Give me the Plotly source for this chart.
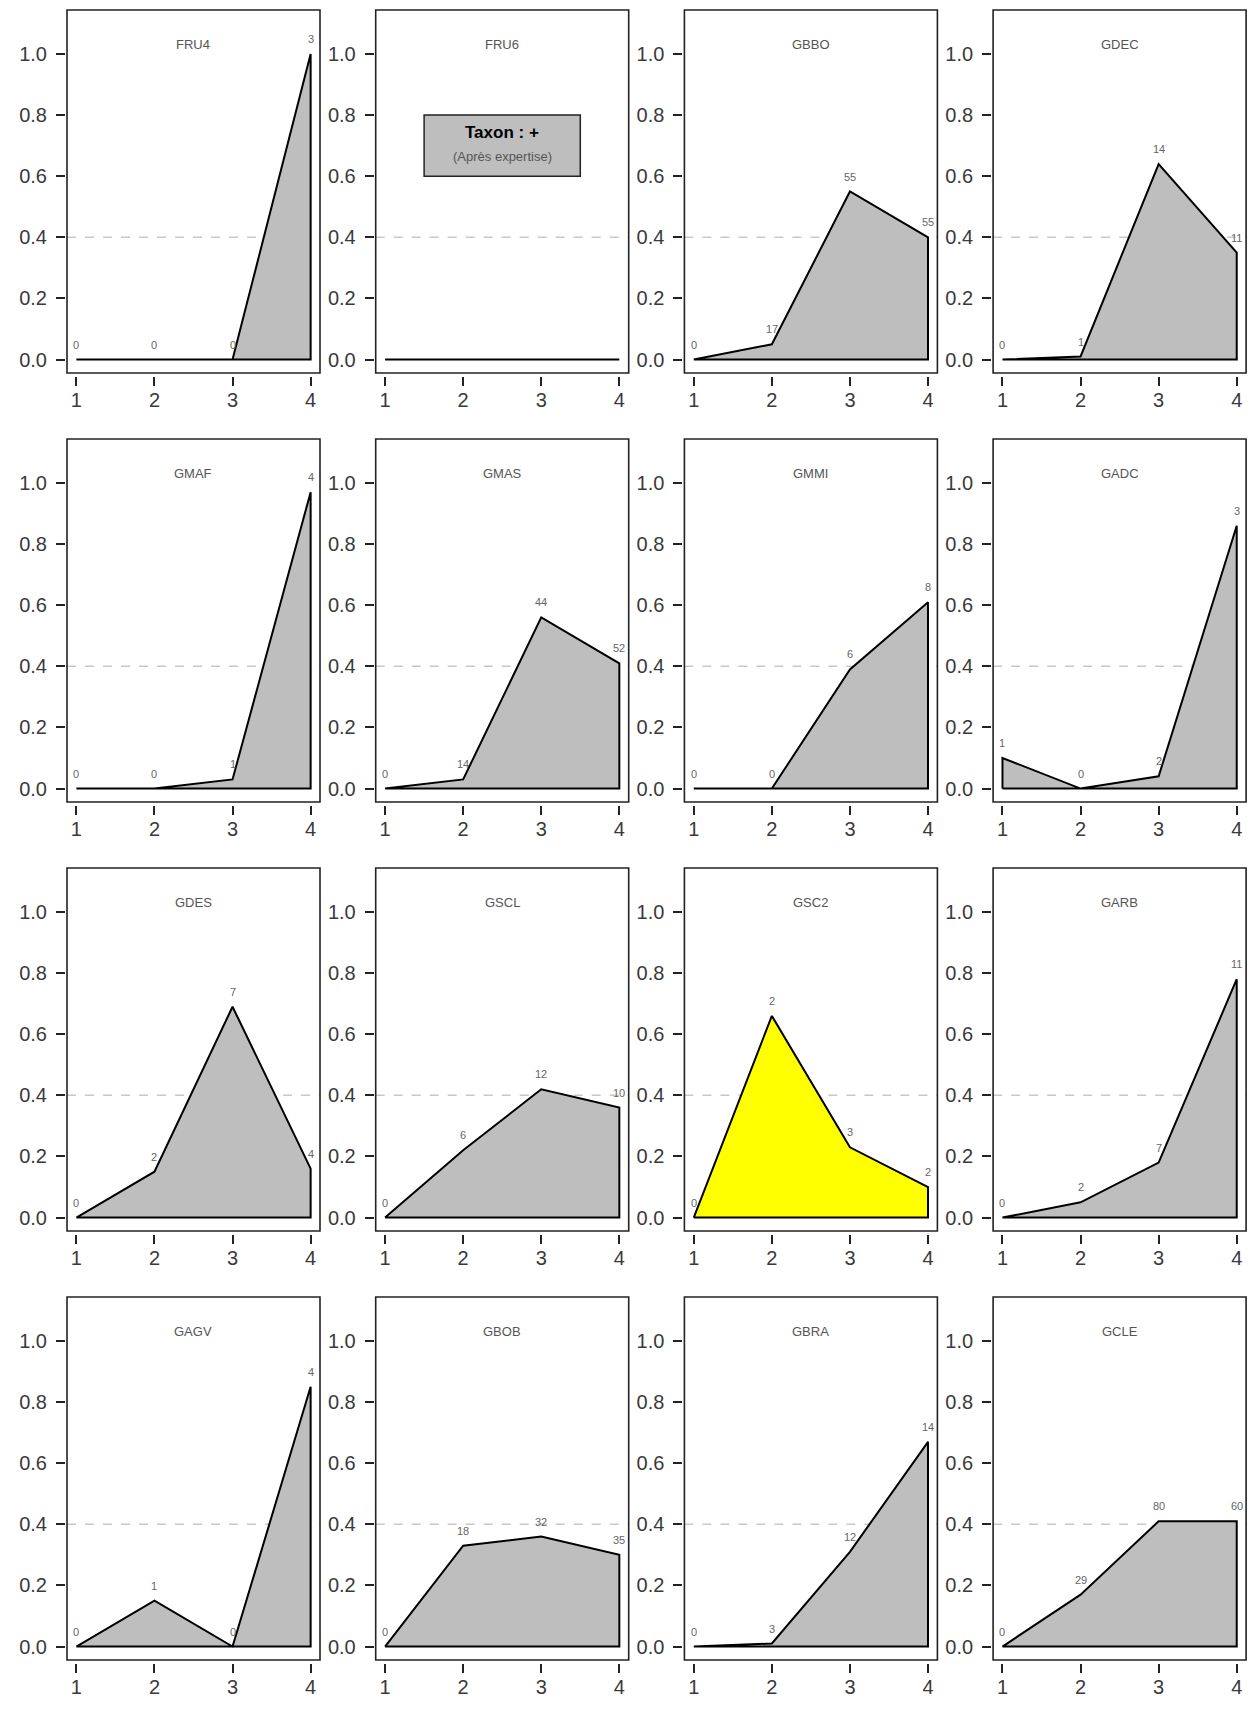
import plotly.graph_objects as go

# ── data ─────────────────────────────────────────────────────────────────────
TAXA = ["FRU4", "FRU6", "GBBO", "GDEC",
        "GMAF", "GMAS", "GMMI", "GADC",
        "GDES", "GSCL", "GSC2", "GARB",
        "GAGV", "GBOB", "GBRA", "GCLE"]
CLASSES = [1, 2, 3, 4]
FREQ = [
    [0.00, 0.00, 0.00, 1.00], [0.00, 0.00, 0.00, 0.00], [0.00, 0.05, 0.55, 0.40], [0.00, 0.01, 0.64, 0.35],
    [0.00, 0.00, 0.03, 0.97], [0.00, 0.03, 0.56, 0.41], [0.00, 0.00, 0.39, 0.61], [0.10, 0.00, 0.04, 0.86],
    [0.00, 0.15, 0.69, 0.16], [0.00, 0.22, 0.42, 0.36], [0.00, 0.66, 0.23, 0.10], [0.00, 0.05, 0.18, 0.78],
    [0.00, 0.15, 0.00, 0.85], [0.00, 0.33, 0.36, 0.30], [0.00, 0.01, 0.31, 0.67], [0.00, 0.17, 0.41, 0.41],
]
COUNTS = [
    [0, 0, 0, 3], None, [0, 17, 55, 55], [0, 1, 14, 11],
    [0, 0, 1, 4], [0, 14, 44, 52], [0, 0, 6, 8], [1, 0, 2, 3],
    [0, 2, 7, 4], [0, 6, 12, 10], [0, 2, 3, 2], [0, 2, 7, 11],
    [0, 1, 0, 4], [0, 18, 32, 35], [0, 3, 12, 14], [0, 29, 80, 60],
]
HIGHLIGHT = "GSC2"
THRESHOLD = 0.4
Y_TICKS = [0.0, 0.2, 0.4, 0.6, 0.8, 1.0]
NOTE_PANEL = "FRU6"

# ── page geometry (pixels, page coordinates) ─────────────────────────────────
PAGE_W, PAGE_H = 1256, 1716
OFF = 8                                  # default body margin of the html page
W, H = PAGE_W - 2 * OFF, PAGE_H - 2 * OFF
COL_LEFT, COL_PITCH, BOX_W = 67, 308.7, 253
ROW_TOP, ROW_PITCH, BOX_H = 10, 429, 363
X0, X1 = 0.88, 4.12                      # R-style 4 % padded x range

FONT = "Liberation Sans, Arial, Helvetica, sans-serif"
GREY_FILL = "#BEBEBE"

fig = go.Figure()
shapes, annotations = [], []

for i, taxon in enumerate(TAXA):
    r, c = divmod(i, 4)
    n = "" if i == 0 else str(i + 1)
    xa, ya = "x" + n, "y" + n

    left = COL_LEFT + c * COL_PITCH - OFF
    top = ROW_TOP + r * ROW_PITCH - OFF
    bottom = top + BOX_H
    xdom = [left / W, (left + BOX_W) / W]
    ydom = [1 - bottom / H, 1 - top / H]

    fig.update_layout(**{
        "xaxis" + n: dict(
            domain=xdom, range=[X0, X1], anchor="free",
            position=1 - (bottom + 3) / H,
            tickvals=CLASSES, ticks="outside", ticklen=9, tickwidth=1.5,
            tickcolor="#222", showgrid=False, zeroline=False, showline=False,
            tickfont=dict(family=FONT, size=20, color="#3a3a3a"),
            ticklabelstandoff=-3, fixedrange=True,
        ),
        "yaxis" + n: dict(
            domain=ydom, range=[-0.044, 1.144], anchor="free",
            position=(left - 2) / W,
            tickvals=Y_TICKS, ticktext=[f"{v:.1f}" for v in Y_TICKS],
            ticks="outside", ticklen=9, tickwidth=1.5, tickcolor="#222",
            showgrid=False, zeroline=False, showline=False,
            tickfont=dict(family=FONT, size=20, color="#3a3a3a"),
            ticklabelstandoff=5, fixedrange=True,
        ),
    })

    # threshold line, under the polygon
    shapes.append(dict(
        type="line", xref=xa + " domain", yref=ya, x0=0, x1=1,
        y0=THRESHOLD, y1=THRESHOLD, layer="below",
        line=dict(color="#C8C8C8", width=1.5, dash="dash"),
    ))

    # frequency polygon closed down to zero
    y = FREQ[i]
    fig.add_trace(go.Scatter(
        x=[CLASSES[0]] + CLASSES + [CLASSES[-1], CLASSES[0]],
        y=[0] + y + [0, 0],
        xaxis=xa, yaxis=ya, mode="lines", fill="toself",
        fillcolor="#FFFF00" if taxon == HIGHLIGHT else GREY_FILL,
        line=dict(color="black", width=2), hoverinfo="skip",
        showlegend=False, cliponaxis=False,
    ))

    # panel frame
    shapes.append(dict(
        type="rect", xref=xa + " domain", yref=ya + " domain",
        x0=0, x1=1, y0=0, y1=1, layer="above",
        line=dict(color="#222", width=1.6),
    ))

    # panel title
    annotations.append(dict(
        text=taxon, xref=xa + " domain", yref=ya, x=0.5, y=1.03,
        showarrow=False, font=dict(family=FONT, size=13, color="#555"),
    ))

    # counts above each vertex
    if COUNTS[i] is not None:
        for xv, yv, cnt in zip(CLASSES, y, COUNTS[i]):
            annotations.append(dict(
                text=str(cnt), xref=xa, yref=ya, x=xv, y=yv, yshift=15,
                showarrow=False, font=dict(family=FONT, size=11, color="#666"),
            ))

    if taxon == NOTE_PANEL:
        shapes.append(dict(
            type="rect", xref=xa, yref=ya, x0=1.5, x1=3.5, y0=0.6, y1=0.8,
            fillcolor=GREY_FILL, line=dict(color="#222", width=1.5),
        ))
        annotations.append(dict(
            text="<b>Taxon : +</b>", xref=xa, yref=ya, x=2.5, y=0.742,
            showarrow=False, font=dict(family=FONT, size=17, color="black"),
        ))
        annotations.append(dict(
            text="(Après expertise)", xref=xa, yref=ya, x=2.5, y=0.664,
            showarrow=False, font=dict(family=FONT, size=13, color="#555"),
        ))

fig.update_layout(
    width=W, height=H,
    margin=dict(l=0, r=0, t=0, b=0),
    paper_bgcolor="white", plot_bgcolor="white",
    shapes=shapes, annotations=annotations,
    showlegend=False,
)

fig.write_html("out.html")
